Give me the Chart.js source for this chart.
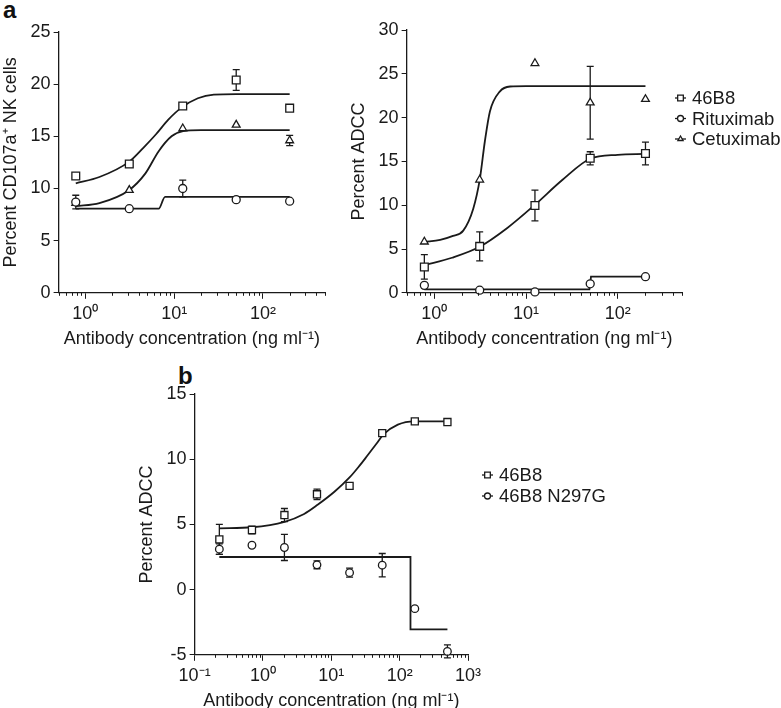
<!DOCTYPE html>
<html>
<head>
<meta charset="utf-8">
<script src="https://cdn.jsdelivr.net/npm/chart.js@4.4.1/dist/chart.umd.min.js"></script>
<style>
  body { margin: 0; background: #fff; width: 781px; height: 708px; position: relative; overflow: hidden; font-family: "Liberation Sans", Arial, sans-serif; }
  canvas { position: absolute; }
  .tag { position: absolute; font-weight: bold; font-size: 24px; color: #111; line-height: 1; }
</style>
</head>
<body>
<div class="tag" style="left:3px;top:-2px">a</div>
<div class="tag" style="left:178px;top:364px">b</div>
<canvas id="cd107Chart" width="345" height="350" style="left:0;top:0"></canvas>
<canvas id="adccChart" width="436" height="350" style="left:345px;top:0"></canvas>
<canvas id="mutantChart" width="520" height="352" style="left:130px;top:360px"></canvas>
<script>
// ---- panel a, left: CD107a+ NK cells ----
const concA = [0.78, 3.125, 12.5, 50, 200];
const cd107_46B8 = [11.2, 12.35, 17.9, 20.4, 17.7];
const cd107_46B8Err = [0, 0.3, 0.3, 1.0, 0.3];
const cd107_ritux = [8.7, 8.06, 10.0, 8.93, 8.78];
const cd107_rituxErr = [0.65, 0, 0.8, 0, 0];
const cd107_cetux = [8.6, 9.84, 15.75, 16.1, 14.6];
const cd107_cetuxErr = [0, 0, 0, 0, 0.5];
// fitted curves
const fitCd107_46B8X = [0.78, 1.44, 3.1, 4.5, 6.25, 8.6, 12.1, 18.5, 28, 50, 200];
const fitCd107_46B8Y = [10.5, 11.1, 12.55, 13.9, 15.2, 16.6, 17.75, 18.65, 19.0, 19.05, 19.05];
const fitCd107_cetuxX = [0.78, 1.44, 3.1, 4.75, 6.67, 9.35, 12.6, 20, 200];
const fitCd107_cetuxY = [8.3, 8.6, 9.84, 11.45, 13.55, 15.0, 15.5, 15.6, 15.6];
const fitCd107_rituxX = [0.78, 6.7, 7.9, 200];
const fitCd107_rituxY = [8.06, 8.06, 9.2, 9.2];

// ---- panel a, right: percent ADCC ----
const adcc_46B8 = [2.95, 5.3, 9.97, 15.35, 15.9];
const adcc_46B8Err = [1.4, 1.65, 1.75, 0.75, 1.3];
const adcc_ritux = [0.85, 0.3, 0.1, 1.03, 1.84];
const adcc_rituxErr = [0, 0, 0, 0, 0];
const adcc_cetux = [5.83, 12.9, 26.2, 21.7, 22.1];
const adcc_cetuxErr = [0, 0, 0, 4.15, 0];
const fitAdcc_46B8X = [0.78, 1.56, 3.125, 6.25, 12.5, 25, 50, 100, 200];
const fitAdcc_46B8Y = [3.15, 4.0, 5.25, 7.4, 10.05, 12.9, 15.3, 15.75, 15.85];
const fitAdcc_cetuxX = [0.78, 1.16, 1.6, 2.07, 2.66, 3.14, 3.56, 4.04, 5.2, 6.7, 10, 200];
const fitAdcc_cetuxY = [5.8, 6.05, 6.5, 7.1, 9.6, 13.0, 17.3, 20.7, 23.0, 23.55, 23.6, 23.6];
const fitAdcc_rituxX = [0.78, 49, 51, 200];
const fitAdcc_rituxY = [0.4, 0.4, 1.85, 1.85];

// ---- panel b: 46B8 vs 46B8 N297G ----
const concB = [0.23, 0.69, 2.06, 6.17, 18.5, 55.6, 166.7, 500];
const wt46B8 = [3.85, 4.57, 5.72, 7.31, 7.95, 12.0, 12.9, 12.85];
const wt46B8Err = [1.15, 0.3, 0.5, 0.4, 0.2, 0, 0, 0];
const n297g = [3.1, 3.4, 3.23, 1.9, 1.3, 1.87, -1.46, -4.74];
const n297gErr = [0.4, 0, 1.0, 0.3, 0.35, 0.9, 0, 0.5];
const fitWtX = [0.23, 0.69, 2.07, 4, 6.3, 11.1, 18.5, 25, 34, 46, 58, 94, 165, 500];
const fitWtY = [4.7, 4.78, 5.2, 5.8, 6.5, 7.5, 8.6, 9.4, 10.3, 11.2, 11.9, 12.65, 12.9, 12.9];
const fitN297gX = [0.23, 144, 144, 500];
const fitN297gY = [2.5, 2.5, -3.05, -3.05];

// axis ticks
const decadesA = [1, 10, 100];
const decadeLabelsA = ['10\u2070', '10\u00b9', '10\u00b2'];
const decadesB = [0.1, 1, 10, 100, 1000];
const decadeLabelsB = ['10\u207b\u00b9', '10\u2070', '10\u00b9', '10\u00b2', '10\u00b3'];

const INK = '#1a1a1a';
const FONT = "'Liberation Sans', Arial, sans-serif";
const FS = 18;
const xTitle = 'Antibody concentration (ng ml\u207b\u00b9)';

const pts = (xs, ys) => xs.map((x, i) => ({ x: x, y: ys[i] }));

function markers(label, xs, ys, errs, style, r) {
  return {
    label: label,
    data: pts(xs, ys),
    errors: errs,
    showLine: false,
    pointStyle: style,
    pointRadius: r,
    pointBorderWidth: 1.3,
    pointBorderColor: INK,
    pointBackgroundColor: '#fff',
    clip: false,
    order: 0
  };
}

function curve(xs, ys, smooth) {
  return {
    data: pts(xs, ys),
    showLine: true,
    pointRadius: 0,
    borderColor: INK,
    borderWidth: 1.8,
    cubicInterpolationMode: smooth ? 'monotone' : 'default',
    tension: 0,
    clip: false,
    order: 5
  };
}

// error bars drawn under the markers, through the chart scales
const errorBars = {
  id: 'errorBars',
  beforeDatasetsDraw(chart) {
    const ctx = chart.ctx, sx = chart.scales.x, sy = chart.scales.y;
    ctx.save();
    ctx.strokeStyle = INK;
    ctx.lineWidth = 1.3;
    chart.data.datasets.forEach(ds => {
      if (!ds.errors) return;
      ds.data.forEach((p, i) => {
        const e = ds.errors[i];
        if (!e) return;
        const px = sx.getPixelForValue(p.x);
        const top = sy.getPixelForValue(p.y + e);
        const bot = sy.getPixelForValue(p.y - e);
        ctx.beginPath();
        ctx.moveTo(px, top); ctx.lineTo(px, bot);
        ctx.moveTo(px - 3.5, top); ctx.lineTo(px + 3.5, top);
        ctx.moveTo(px - 3.5, bot); ctx.lineTo(px + 3.5, bot);
        ctx.stroke();
      });
    });
    ctx.restore();
  }
};

// short minor ticks between the decades of the log axis
const minorTicks = {
  id: 'minorTicks',
  afterDraw(chart) {
    const s = chart.scales.x, ctx = chart.ctx;
    const y0 = s.top;
    ctx.save();
    ctx.strokeStyle = INK;
    ctx.lineWidth = 1;
    for (let d = Math.floor(Math.log10(s.min)); d <= Math.ceil(Math.log10(s.max)); d++) {
      for (let m = 2; m <= 9; m++) {
        const v = m * Math.pow(10, d);
        if (v < s.min || v > s.max) continue;
        const px = Math.round(s.getPixelForValue(v)) + 0.5;
        ctx.beginPath();
        ctx.moveTo(px, y0);
        ctx.lineTo(px, y0 + 3);
        ctx.stroke();
      }
    }
    ctx.restore();
  }
};

// legend: short line with the symbol in its middle, then the name
const sideLegend = {
  id: 'sideLegend',
  afterDraw(chart, args, opts) {
    if (!opts.items) return;
    const ctx = chart.ctx;
    ctx.save();
    ctx.font = '18.5px ' + FONT;
    ctx.textBaseline = 'middle';
    opts.items.forEach((it, i) => {
      const y = opts.y + i * opts.gap;
      ctx.strokeStyle = INK;
      ctx.lineWidth = 1.3;
      ctx.beginPath();
      ctx.moveTo(opts.x, y);
      ctx.lineTo(opts.x + 11, y);
      ctx.stroke();
      ctx.fillStyle = '#fff';
      Chart.helpers.drawPoint(ctx, { pointStyle: it.style, radius: it.style === 'rect' ? 4 : 3, rotation: 0, borderWidth: 1.2 }, opts.x + 5.5, y);
      ctx.fillStyle = INK;
      ctx.fillText(it.label, opts.x + 17, y + 1);
    });
    ctx.restore();
  }
};

function logAxis(min, max, decades, labels) {
  return {
    type: 'logarithmic',
    min: min,
    max: max,
    afterBuildTicks: s => { s.ticks = decades.map(v => ({ value: v, major: true })); },
    ticks: {
      autoSkip: false,
      maxRotation: 0,
      color: INK,
      font: { family: FONT, size: FS },
      padding: 4,
      callback: v => labels[decades.indexOf(v)]
    },
    grid: { drawOnChartArea: false, tickLength: 6, color: INK, tickWidth: 1 },
    border: { color: INK, width: 1.3 },
    title: { display: true, text: xTitle, color: INK, font: { family: FONT, size: FS }, padding: { top: 0, bottom: 0 } }
  };
}

function linAxis(min, max, title) {
  return {
    min: min,
    max: max,
    ticks: { stepSize: 5, color: INK, font: { family: FONT, size: FS }, padding: 3 },
    grid: { drawOnChartArea: false, tickLength: 5, color: INK, tickWidth: 1 },
    border: { color: INK, width: 1.3 },
    title: { display: true, text: title, color: INK, font: { family: FONT, size: FS }, padding: { top: 0, bottom: 6 } }
  };
}

function baseOptions(xAxis, yAxis, padding, legendOpts) {
  return {
    responsive: false,
    devicePixelRatio: 1,
    animation: false,
    layout: { padding: padding },
    scales: { x: xAxis, y: yAxis },
    plugins: {
      legend: { display: false },
      tooltip: { enabled: false },
      sideLegend: legendOpts || {}
    }
  };
}

new Chart(document.getElementById('cd107Chart'), {
  type: 'scatter',
  data: {
    datasets: [
      markers('Rituximab', concA, cd107_ritux, cd107_rituxErr, 'circle', 4),
      markers('Cetuximab', concA, cd107_cetux, cd107_cetuxErr, 'triangle', 4.5),
      markers('46B8', concA, cd107_46B8, cd107_46B8Err, 'rect', 5.5),
      curve(fitCd107_46B8X, fitCd107_46B8Y, true),
      curve(fitCd107_cetuxX, fitCd107_cetuxY, true),
      curve(fitCd107_rituxX, fitCd107_rituxY, true)
    ]
  },
  options: baseOptions(logAxis(0.5, 500, decadesA, decadeLabelsA),
    linAxis(0, 25, 'Percent CD107a\u207a NK cells'),
    { left: 0, right: 20, top: 32, bottom: 0 }),
  plugins: [errorBars, minorTicks, sideLegend]
});

new Chart(document.getElementById('adccChart'), {
  type: 'scatter',
  data: {
    datasets: [
      markers('Rituximab', concA, adcc_ritux, adcc_rituxErr, 'circle', 4),
      markers('Cetuximab', concA, adcc_cetux, adcc_cetuxErr, 'triangle', 4.5),
      markers('46B8', concA, adcc_46B8, adcc_46B8Err, 'rect', 5.5),
      curve(fitAdcc_46B8X, fitAdcc_46B8Y, true),
      curve(fitAdcc_cetuxX, fitAdcc_cetuxY, true),
      curve(fitAdcc_rituxX, fitAdcc_rituxY, false)
    ]
  },
  options: baseOptions(logAxis(0.5, 500, decadesA, decadeLabelsA),
    linAxis(0, 30, 'Percent ADCC'),
    { left: 3, right: 99, top: 30, bottom: 0 },
    { x: 330, y: 98, gap: 20.5, items: [
      { label: '46B8', style: 'rect' },
      { label: 'Rituximab', style: 'circle' },
      { label: 'Cetuximab', style: 'triangle' }
    ] }),
  plugins: [errorBars, minorTicks, sideLegend]
});

new Chart(document.getElementById('mutantChart'), {
  type: 'scatter',
  data: {
    datasets: [
      markers('46B8 N297G', concB, n297g, n297gErr, 'circle', 3.8),
      markers('46B8', concB, wt46B8, wt46B8Err, 'rect', 5),
      curve(fitWtX, fitWtY, true),
      curve(fitN297gX, fitN297gY, false)
    ]
  },
  options: baseOptions(logAxis(0.1, 1000, decadesB, decadeLabelsB),
    linAxis(-5, 15, 'Percent ADCC'),
    { left: 6, right: 182, top: 34, bottom: 0 },
    { x: 352, y: 115, gap: 21, items: [
      { label: '46B8', style: 'rect' },
      { label: '46B8 N297G', style: 'circle' }
    ] }),
  plugins: [errorBars, minorTicks, sideLegend]
});
</script>
</body>
</html>
